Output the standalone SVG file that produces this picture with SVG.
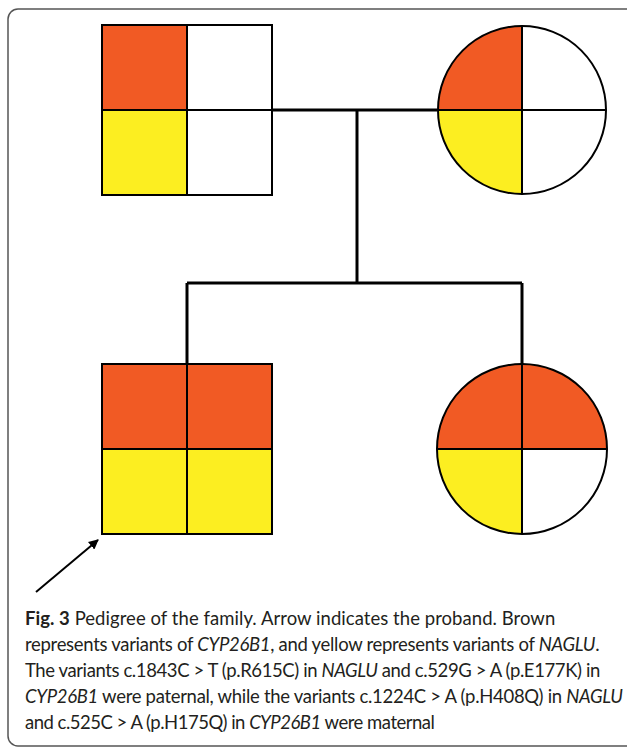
<svg xmlns="http://www.w3.org/2000/svg" width="627" height="747" viewBox="0 0 627 747">
<style>
.o{fill:#F15A24}
.y{fill:#FCEE21}
.w{fill:#FFFFFF}
.sh{stroke:#000;stroke-width:2;fill:none}
.ln{stroke:#000;stroke-width:3;fill:none}
.cap{font-family:Lato,"Liberation Sans",Arial,sans-serif;font-size:18.5px;fill:#231F20}
.it{font-style:italic}
</style>
<defs>
<marker id="ah" markerWidth="10" markerHeight="10" refX="9" refY="5" orient="auto" markerUnits="userSpaceOnUse" viewBox="0 0 10 10">
<path d="M0,0 L10,5 L0,10 Z" fill="#000"/>
</marker>
</defs>
<rect x="8" y="9" width="640" height="737" rx="10" ry="10" fill="#fff" stroke="#555" stroke-width="1.5"/>
<g id="connectors">
<path class="ln" d="M272,110 H437"/>
<path class="ln" d="M357,110 V283"/>
<path class="ln" d="M187,283 H522"/>
<path class="ln" d="M187,283 V364"/>
<path class="ln" d="M522,283 V364"/>
</g>
<g id="father">
<rect class="o" x="102" y="25" width="85" height="85"/>
<rect class="w" x="187" y="25" width="85" height="85"/>
<rect class="y" x="102" y="110" width="85" height="85"/>
<rect class="w" x="187" y="110" width="85" height="85"/>
<rect class="sh" x="102" y="25" width="170" height="170"/>
<path class="sh" d="M187,25 V195 M102,110 H272"/>
</g>
<g id="mother">
<circle class="w" cx="522" cy="110" r="84"/>
<path class="o" d="M522,110 L438,110 A84,84 0 0 1 522,26 Z"/>
<path class="y" d="M522,110 L522,194 A84,84 0 0 1 438,110 Z"/>
<circle class="sh" cx="522" cy="110" r="84"/>
<path class="sh" d="M522,26 V194 M438,110 H606"/>
</g>
<g id="son">
<rect class="o" x="102" y="364" width="170" height="85"/>
<rect class="y" x="102" y="449" width="170" height="85"/>
<rect class="sh" x="102" y="364" width="170" height="170"/>
<path class="sh" d="M187,364 V534 M102,449 H272"/>
</g>
<g id="daughter">
<circle class="w" cx="522" cy="449" r="85"/>
<path class="o" d="M437,449 A85,85 0 0 1 607,449 Z"/>
<path class="y" d="M522,449 L522,534 A85,85 0 0 1 437,449 Z"/>
<circle class="sh" cx="522" cy="449" r="85"/>
<path class="sh" d="M522,364 V534 M437,449 H607"/>
</g>
<g id="arrow">
<line x1="36" y1="592" x2="98" y2="540" stroke="#000" stroke-width="2" marker-end="url(#ah)"/>
</g>
<g id="caption" class="cap">
<text x="25" y="625" letter-spacing="0.05"><tspan font-weight="bold">Fig. 3</tspan> Pedigree of the family. Arrow indicates the proband. Brown</text>
<text x="25" y="651" letter-spacing="-0.3">represents variants of <tspan class="it">CYP26B1</tspan>, and yellow represents variants of <tspan class="it">NAGLU</tspan>.</text>
<text x="25" y="677" letter-spacing="-0.4">The variants c.1843C &gt; T (p.R615C) in <tspan class="it">NAGLU</tspan> and c.529G &gt; A (p.E177K) in</text>
<text x="25" y="703" letter-spacing="-0.3"><tspan class="it">CYP26B1</tspan> were paternal, while the variants c.1224C &gt; A (p.H408Q) in <tspan class="it">NAGLU</tspan></text>
<text x="25" y="729" letter-spacing="-0.5">and c.525C &gt; A (p.H175Q) in <tspan class="it">CYP26B1</tspan> were maternal</text>
</g>
</svg>
